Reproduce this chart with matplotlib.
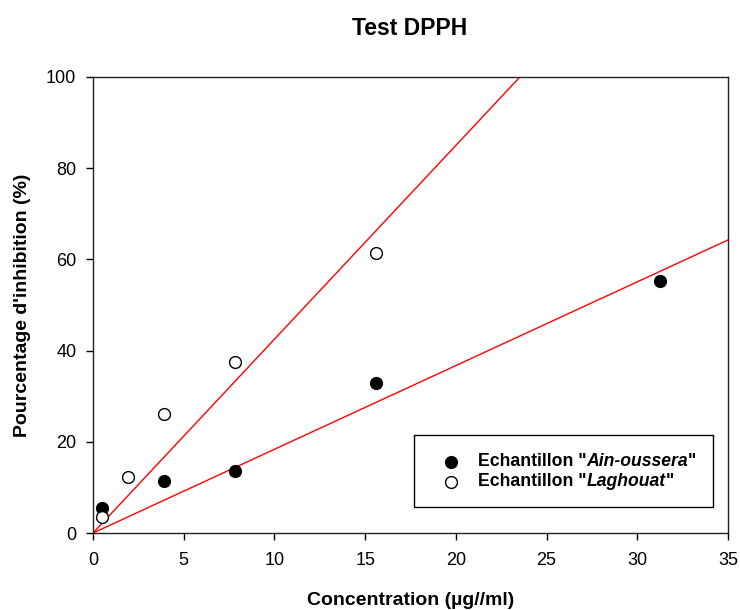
import matplotlib
matplotlib.use("Agg")
import matplotlib.pyplot as plt
from matplotlib.patches import Rectangle
import numpy as np

plt.rcParams["font.family"] = ["Liberation Sans", "DejaVu Sans"]

# measured points (concentration in ug/ml, % inhibition)
conc_ain = [0.49, 3.9, 7.8, 15.6, 31.25]
inhib_ain = [5.4, 11.4, 13.5, 32.9, 55.3]
conc_lag = [0.49, 1.95, 3.9, 7.8, 15.6]
inhib_lag = [3.5, 12.3, 26.1, 37.5, 61.3]

# regression lines: (slope, intercept)
fit_ain = (1.836, 0.0)
fit_lag = (4.25, 0.0)

x_ticks = [0, 5, 10, 15, 20, 25, 30, 35]
y_ticks = [0, 20, 40, 60, 80, 100]

fig = plt.figure(figsize=(7.4, 6.1), dpi=100)
ax = fig.add_axes([0.1257, 0.1262, 0.8581, 0.7476])

xx = np.array([0, 35])
for slope, icpt in (fit_ain, fit_lag):
    ax.plot(xx, slope * xx + icpt, color="red", lw=1.0, zorder=2)

ax.plot(conc_ain, inhib_ain, "o", ms=8.5, mfc="black", mec="black",
        ls="none", zorder=3)
ax.plot(conc_lag, inhib_lag, "o", ms=8.5, mfc="white", mec="black",
        mew=1.0, ls="none", zorder=3)

ax.set_xlim(0, 35)
ax.set_ylim(0, 100)
ax.set_xticks(x_ticks)
ax.set_yticks(y_ticks)
ax.tick_params(axis="x", direction="out", length=5, labelsize=13, width=1, pad=9)
ax.tick_params(axis="y", direction="out", length=5, labelsize=13, width=1, pad=7)
for s in ax.spines.values():
    s.set_linewidth(1.0)
    s.set_color("#222222")

ax.set_xlabel("Concentration (µg//ml)", fontsize=14, fontweight="bold", labelpad=16)
ax.set_ylabel("Pourcentage d'inhibition (%)", fontsize=14, fontweight="bold", labelpad=11)
fig.text(0.554, 0.953, "Test DPPH", ha="center", va="center",
         fontsize=16.5, fontweight="bold")

# legend box drawn by hand so the italic part of each label can be kept
box = Rectangle((0.505, 0.057), 0.471, 0.158, transform=ax.transAxes,
                fill=True, fc="white", ec="black", lw=1.0, zorder=4)
ax.add_patch(box)
rows = [("Ain-oussera", "black", 0.156), ("Laghouat", "white", 0.112)]
fig.canvas.draw()
r = fig.canvas.get_renderer()
for name, fc, yy in rows:
    ax.plot([0.563], [yy], "o", ms=8.5, mfc=fc, mec="black",
            transform=ax.transAxes, zorder=5, clip_on=False)
    t1 = ax.text(0.606, yy, 'Echantillon "', transform=ax.transAxes,
                 fontsize=12.7, fontweight="bold", va="center", zorder=5)
    bb = t1.get_window_extent(r).transformed(ax.transAxes.inverted())
    t2 = ax.text(bb.x1, yy, name, transform=ax.transAxes, fontsize=12.7,
                 fontweight="bold", style="italic", va="center", zorder=5)
    bb2 = t2.get_window_extent(r).transformed(ax.transAxes.inverted())
    ax.text(bb2.x1, yy, '"', transform=ax.transAxes, fontsize=12.7,
            fontweight="bold", va="center", zorder=5)

fig.savefig("out.png", dpi=100)
